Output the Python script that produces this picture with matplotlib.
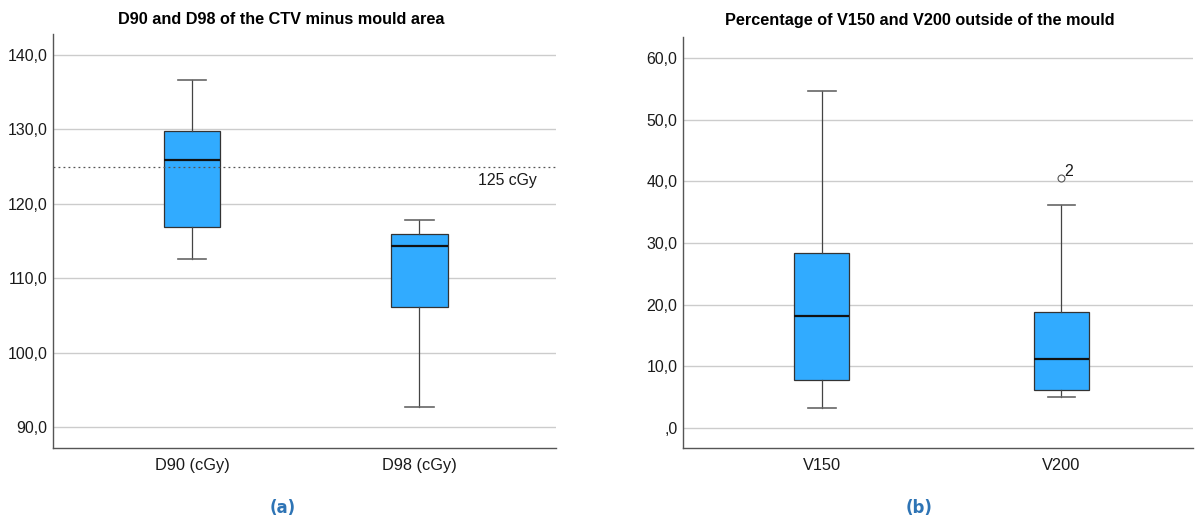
import matplotlib
matplotlib.use("Agg")
import matplotlib.pyplot as plt

plt.rcParams["font.family"] = ["Liberation Sans", "DejaVu Sans"]

# Panel (a)
cats_a = ["D90 (cGy)", "D98 (cGy)"]
whislo_a = [112.6, 92.7]
q1_a = [116.9, 106.1]
med_a = [125.9, 114.3]
q3_a = [129.8, 115.9]
whishi_a = [136.6, 117.8]
yticks_a = [90, 100, 110, 120, 130, 140]
ref_line = 125

# Panel (b)
cats_b = ["V150", "V200"]
whislo_b = [3.2, 5.0]
q1_b = [7.8, 6.2]
med_b = [18.2, 11.2]
q3_b = [28.4, 18.8]
whishi_b = [54.7, 36.2]
outliers_b = [[], [40.6]]
outlier_labels_b = [[], ["2"]]
yticks_b = [0, 10, 20, 30, 40, 50, 60]

BOX_COLOR = "#31ABFF"

fig = plt.figure(figsize=(11.95, 5.2), dpi=100)
ax1 = fig.add_axes([53/1195, 1-448/520, 503/1195, 414/520])
ax2 = fig.add_axes([683/1195, 1-448/520, 510/1195, 411/520])


def fmt(v):
    s = f"{v:.1f}".replace(".", ",")
    if s.startswith("0,"):
        s = s[1:]
    return s


def draw(ax, cats, lo, q1, med, q3, hi, fliers, width):
    stats = []
    for i in range(len(cats)):
        stats.append(dict(whislo=lo[i], q1=q1[i], med=med[i], q3=q3[i],
                          whishi=hi[i], fliers=fliers[i]))
    ax.bxp(stats, positions=range(1, len(cats)+1), widths=width,
           patch_artist=True, showfliers=True,
           boxprops=dict(facecolor=BOX_COLOR, edgecolor="#333333", linewidth=0.9),
           medianprops=dict(color="#111111", linewidth=1.6),
           whiskerprops=dict(color="#444444", linewidth=0.9),
           capprops=dict(color="#666666", linewidth=1.2),
           capwidths=width*0.5,
           flierprops=dict(marker="o", markersize=5, markerfacecolor="white",
                           markeredgecolor="#555555", markeredgewidth=0.8),
           zorder=3)
    ax.set_xticks(range(1, len(cats)+1))
    ax.set_xticklabels(cats, fontsize=11.8)
    ax.grid(axis="y", color="#cccccc", linewidth=1.0, zorder=0)
    ax.set_axisbelow(True)
    for s in ["top", "right"]:
        ax.spines[s].set_visible(False)
    for s in ["left", "bottom"]:
        ax.spines[s].set_color("#555555")
        ax.spines[s].set_linewidth(1.0)
    ax.tick_params(axis="both", length=0, colors="#1a1a1a")
    ax.tick_params(axis="y", pad=4, labelsize=11.4)
    ax.tick_params(axis="x", pad=7)


draw(ax1, cats_a, whislo_a, q1_a, med_a, q3_a, whishi_a, [[], []], 0.25)
ax1.set_ylim(87.2, 142.8)
ax1.set_xlim(0.389, 2.601)
ax1.set_yticks(yticks_a)
ax1.set_yticklabels([fmt(v) for v in yticks_a])
ax1.axhline(ref_line, color="#555555", linestyle=(0, (1.5, 2.5)), linewidth=0.9, zorder=4)
ax1.text(2.517, ref_line - 0.9, "125 cGy", ha="right", va="top", fontsize=11.4, color="#1a1a1a")

draw(ax2, cats_b, whislo_b, q1_b, med_b, q3_b, whishi_b, outliers_b, 0.23)
ax2.set_ylim(-3.24, 63.4)
ax2.set_xlim(0.42, 2.55)
ax2.set_yticks(yticks_b)
ax2.set_yticklabels([fmt(v) for v in yticks_b])
for i, (vals, labs) in enumerate(zip(outliers_b, outlier_labels_b)):
    for v, l in zip(vals, labs):
        ax2.annotate(l, (i+1, v), xytext=(2, 1), textcoords="offset points",
                     fontsize=11.4, color="#1a1a1a")

fig.text(281/1195, 1-20/520, "D90 and D98 of the CTV minus mould area",
         ha="center", va="center", fontsize=11.7, fontweight="bold")
fig.text(920/1195, 1-20/520, "Percentage of V150 and V200 outside of the mould",
         ha="center", va="center", fontsize=11.7, fontweight="bold")

fig.text(283/1195, 1-508/520, "(a)", ha="center", va="center", fontsize=12,
         fontweight="bold", color="#2E74B5", family="DejaVu Sans")
fig.text(919/1195, 1-508/520, "(b)", ha="center", va="center", fontsize=12,
         fontweight="bold", color="#2E74B5", family="DejaVu Sans")

fig.savefig("out.png", dpi=100)
